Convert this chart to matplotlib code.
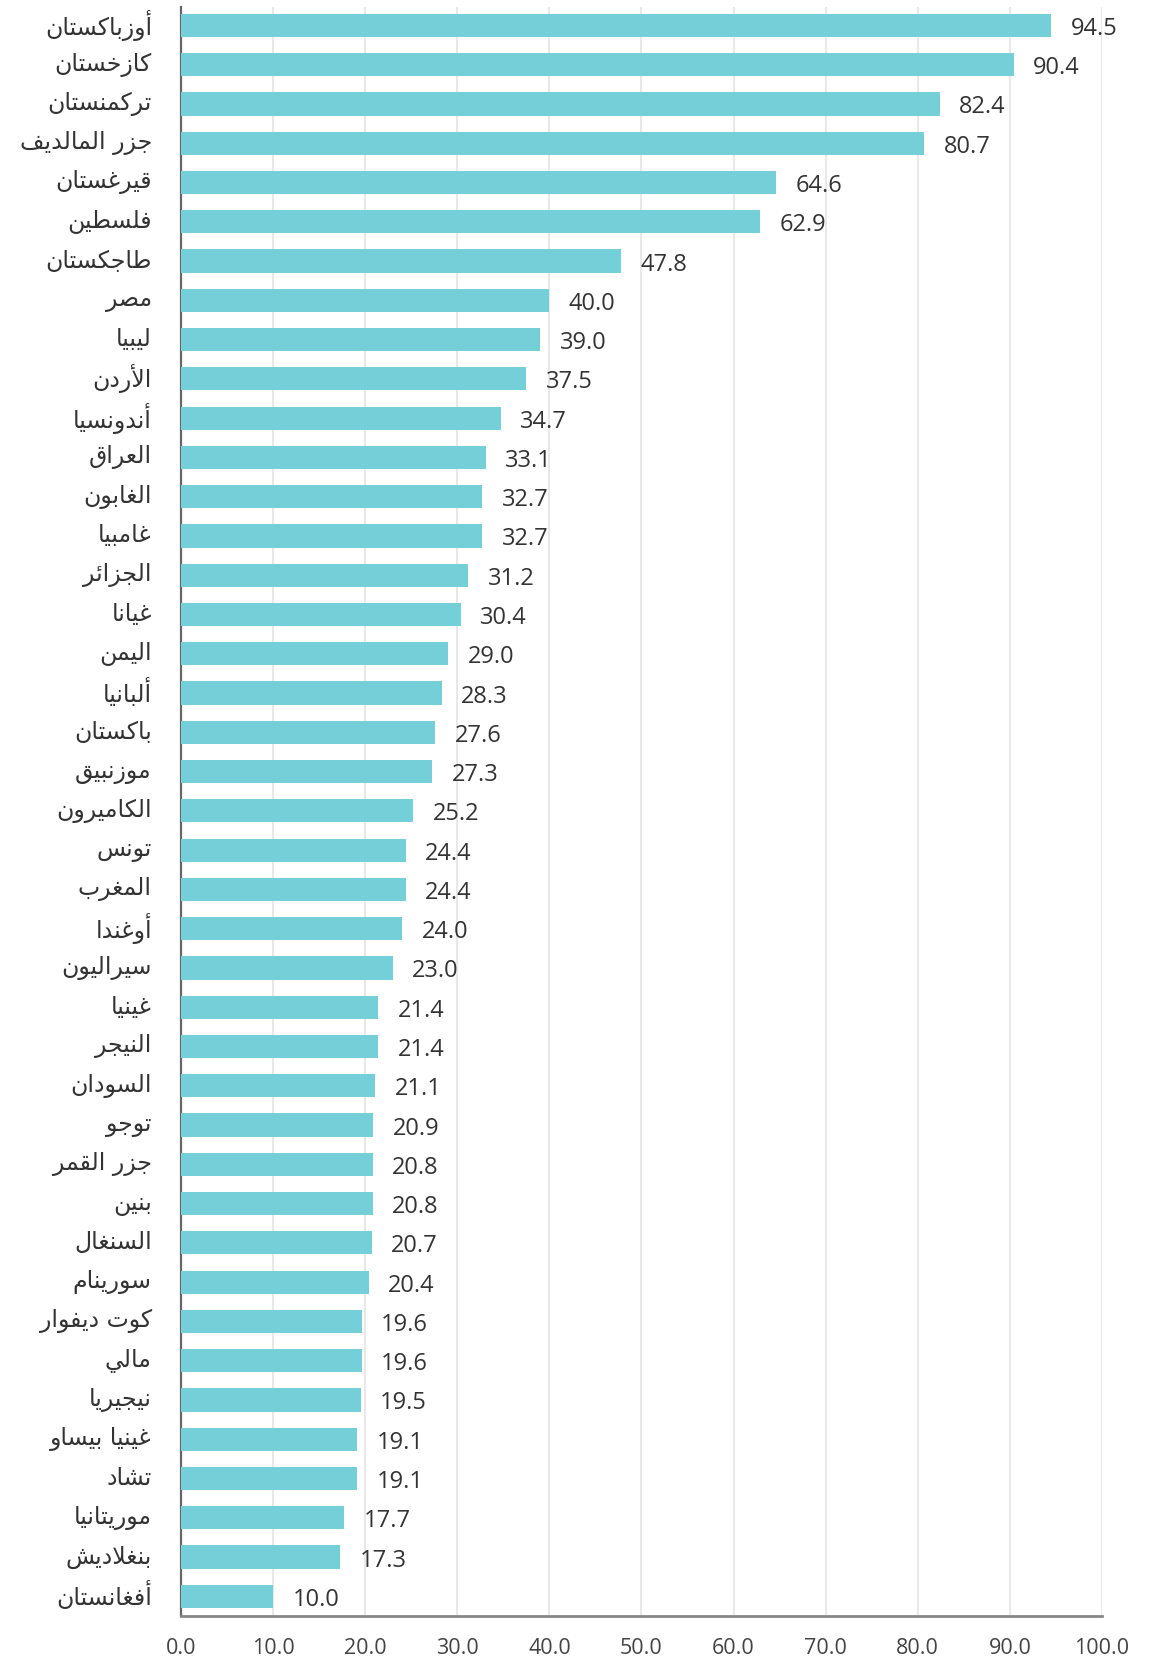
import matplotlib
matplotlib.use("Agg")
import matplotlib.pyplot as plt
from matplotlib.transforms import ScaledTranslation

countries = [
    "أوزباكستان", "كازخستان", "تركمنستان", "جزر المالديف", "قيرغستان",
    "فلسطين", "طاجكستان", "مصر", "ليبيا", "الأردن", "أندونسيا", "العراق",
    "الغابون", "غامبيا", "الجزائر", "غيانا", "اليمن", "ألبانيا", "باكستان",
    "موزنبيق", "الكاميرون", "تونس", "المغرب", "أوغندا", "سيراليون", "غينيا",
    "النيجر", "السودان", "توجو", "جزر القمر", "بنين", "السنغال", "سورينام",
    "كوت ديفوار", "مالي", "نيجيريا", "غينيا بيساو", "تشاد", "موريتانيا",
    "بنغلاديش", "أفغانستان",
]
values = [
    94.5, 90.4, 82.4, 80.7, 64.6, 62.9, 47.8, 40.0, 39.0, 37.5, 34.7, 33.1,
    32.7, 32.7, 31.2, 30.4, 29.0, 28.3, 27.6, 27.3, 25.2, 24.4, 24.4, 24.0,
    23.0, 21.4, 21.4, 21.1, 20.9, 20.8, 20.8, 20.7, 20.4, 19.6, 19.6, 19.5,
    19.1, 19.1, 17.7, 17.3, 10.0,
]
x_ticks = [0, 10, 20, 30, 40, 50, 60, 70, 80, 90, 100]

# matplotlib has no Arabic shaping, so map letters to presentation forms
_base = {
    'آ': 0xFE81, 'أ': 0xFE83, 'ؤ': 0xFE85, 'إ': 0xFE87, 'ئ': 0xFE89,
    'ا': 0xFE8D, 'ب': 0xFE8F, 'ة': 0xFE93, 'ت': 0xFE95, 'ث': 0xFE99,
    'ج': 0xFE9D, 'ح': 0xFEA1, 'خ': 0xFEA5, 'د': 0xFEA9, 'ذ': 0xFEAB,
    'ر': 0xFEAD, 'ز': 0xFEAF, 'س': 0xFEB1, 'ش': 0xFEB5, 'ص': 0xFEB9,
    'ض': 0xFEBD, 'ط': 0xFEC1, 'ظ': 0xFEC5, 'ع': 0xFEC9, 'غ': 0xFECD,
    'ف': 0xFED1, 'ق': 0xFED5, 'ك': 0xFED9, 'ل': 0xFEDD, 'م': 0xFEE1,
    'ن': 0xFEE5, 'ه': 0xFEE9, 'و': 0xFEED, 'ى': 0xFEEF, 'ي': 0xFEF1,
}
_dual = set('ئبتثجحخسشصضطظعغفقكلمنهي')
_lam_alef = {'آ': 0xFEF5, 'أ': 0xFEF7, 'إ': 0xFEF9, 'ا': 0xFEFB}


def shape(word):
    units = []  # (glyph base, dual-joining, is arabic letter)
    i = 0
    while i < len(word):
        ch = word[i]
        if ch == 'ل' and i + 1 < len(word) and word[i + 1] in _lam_alef:
            units.append((_lam_alef[word[i + 1]], False, True))
            i += 2
            continue
        if ch in _base:
            units.append((_base[ch], ch in _dual, True))
        else:
            units.append((ch, False, False))
        i += 1
    out = []
    for k, (b, dual, letter) in enumerate(units):
        if not letter:
            out.append(b)
            continue
        prev = k > 0 and units[k - 1][2] and units[k - 1][1]
        nxt = dual and k + 1 < len(units) and units[k + 1][2]
        out.append(chr(b + (1 if prev else 0) + (2 if nxt else 0)))
    return ''.join(reversed(out))


plt.rcParams['font.family'] = ['Open Sans', 'DejaVu Sans']

fig = plt.figure(figsize=(11.55, 16.63), dpi=100)
ax = fig.add_axes([0.1567, 0.0283, 0.7974, 0.9675])

y = list(range(len(countries)))
ax.barh(y, values, height=0.59, color='#74CFD8', zorder=3)

for yi, v in zip(y, values):
    ax.annotate(f"{v:.1f}", (v, yi), xytext=(14, -2.5), textcoords='offset points',
                va='center', ha='left', fontsize=17, color='#333333')

ax.set_ylim(len(countries) - 0.5, -0.47)
ax.set_xlim(0, 100)
ax.set_yticks(y)
ax.set_yticklabels([shape(c) for c in countries], fontsize=17,
                   color='#333333', family=['DejaVu Sans'])
ax.set_xticks(x_ticks)
ax.set_xticklabels([f"{t:.1f}" for t in x_ticks], fontsize=15.5, color='#444444')
ax.tick_params(axis='y', length=0, pad=21)
ax.tick_params(axis='x', length=0, pad=16)

# nudge the country names up a little
lift = ScaledTranslation(0, 2.2 / 72, fig.dpi_scale_trans)
for lbl in ax.get_yticklabels():
    lbl.set_transform(lbl.get_transform() + lift)

ax.grid(axis='x', color='#E8E8E8', linewidth=1.5, zorder=0)
for side in ('top', 'right'):
    ax.spines[side].set_visible(False)
ax.spines['left'].set_color('#666666')
ax.spines['left'].set_linewidth(1.6)
ax.spines['bottom'].set_color('#888888')
ax.spines['bottom'].set_linewidth(2)

fig.savefig('out.png', dpi=100)
